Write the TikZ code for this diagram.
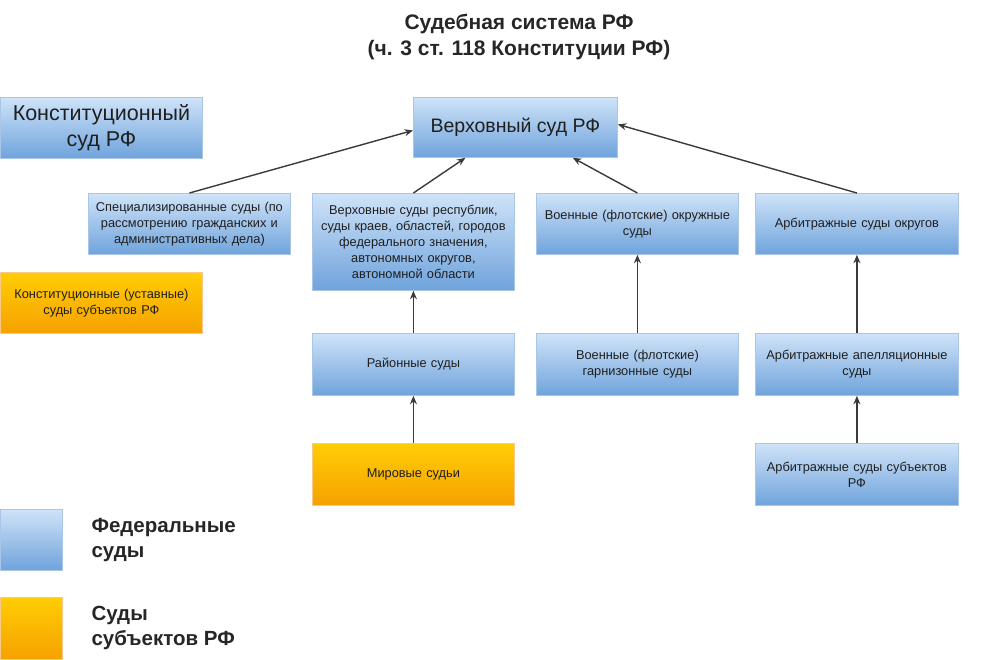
\documentclass[tikz,border=0pt]{standalone}
\usepackage{fontspec}
\setmainfont{Liberation Sans}
\usetikzlibrary{arrows.meta,calc}
\definecolor{btop}{HTML}{CFE3F8}
\definecolor{bbot}{HTML}{6FA3DC}
\definecolor{bdr}{HTML}{A9C6E6}
\definecolor{otop}{HTML}{FFCD05}
\definecolor{obot}{HTML}{F6A100}
\definecolor{odr}{HTML}{F9C98A}
\definecolor{arr}{HTML}{3A3A3A}
\tikzset{
  box/.style={anchor=north west, inner sep=1pt, align=center, font=\fontsize{12.8}{16}\selectfont, text=black!88},
  bluebox/.style={box, top color=btop, bottom color=bbot, draw=bdr, line width=0.8pt},
  orangebox/.style={box, top color=otop, bottom color=obot, draw=odr, line width=0.8pt},
  conn/.style={draw=arr, line width=1.4pt, -{Stealth[length=8.5pt,width=7pt]}},
  legtext/.style={anchor=west, align=left, font=\bfseries\fontsize{20.5}{25.5}\selectfont, text=black!85},
}
\begin{document}
\begin{tikzpicture}[x=1pt,y=-1pt]
\useasboundingbox (0,0) rectangle (995,659);
\node[font=\bfseries\fontsize{21}{26}\selectfont, align=center, text=black!85] (title) at (519,37) {Судебная система РФ\\(ч. 3 ст. 118 Конституции РФ)};

\node[bluebox, minimum width=202pt, minimum height=61pt, font=\fontsize{21.5}{26}\selectfont] (ks) at (0,97) {\raisebox{-2pt}{\parbox{200pt}{\centering Конституционный\\суд РФ}}};
\node[bluebox, minimum width=204pt, minimum height=60pt, font=\fontsize{19.5}{24}\selectfont] (vs) at (413,97) {Верховный суд РФ};

\node[bluebox, minimum width=202pt, minimum height=61pt, text width=200pt] (spec) at (88,193) {Специализированные суды (по\\рассмотрению гражданских и\\административных дела)};
\node[bluebox, minimum width=202pt, minimum height=97pt, text width=200pt] (vr) at (312,193) {Верховные суды республик,\\суды краев, областей, городов\\федерального значения,\\автономных округов,\\автономной области};
\node[bluebox, minimum width=202pt, minimum height=61pt, text width=200pt] (vo) at (536,193) {Военные (флотские) окружные\\суды};
\node[bluebox, minimum width=203pt, minimum height=61pt, text width=200pt] (ao) at (755,193) {Арбитражные суды округов};

\node[orangebox, minimum width=202pt, minimum height=61pt, text width=200pt] (kus) at (0,272) {Конституционные (уставные)\\суды субъектов РФ};

\node[bluebox, minimum width=202pt, minimum height=62pt, text width=200pt] (rs) at (312,333) {Районные суды};
\node[bluebox, minimum width=202pt, minimum height=62pt, text width=200pt] (vg) at (536,333) {Военные (флотские)\\гарнизонные суды};
\node[bluebox, minimum width=203pt, minimum height=62pt, text width=200pt] (aa) at (755,333) {Арбитражные апелляционные\\суды};

\node[orangebox, minimum width=202pt, minimum height=62pt, text width=200pt] (ms) at (312,443) {Мировые судьи};
\node[bluebox, minimum width=203pt, minimum height=62pt, text width=200pt] (as) at (755,443) {Арбитражные суды субъектов\\РФ};

\node[bluebox, minimum width=62pt, minimum height=61pt] (lb) at (0,509) {};
\node[orangebox, minimum width=62pt, minimum height=62pt] (lo) at (0,597) {};
\node[legtext] (lbt) at (88,540) {Федеральные\\суды};
\node[legtext] (lot) at (88,628) {Суды\\субъектов РФ};

\draw[conn] (spec.north) -- ([yshift=-3pt]vs.west);
\draw[conn] (vr.north) -- ([xshift=-50pt]vs.south);
\draw[conn] (vo.north) -- ([xshift=-45pt]vs.south east);
\draw[conn] (ao.north) -- ([yshift=3pt]vs.east);
\draw[conn] (rs.north) -- (vr.south);
\draw[conn] (ms.north) -- (rs.south);
\draw[conn] (vg.north) -- (vo.south);
\draw[conn] (aa.north) -- (ao.south);
\draw[conn] (as.north) -- (aa.south);
\end{tikzpicture}
\end{document}
